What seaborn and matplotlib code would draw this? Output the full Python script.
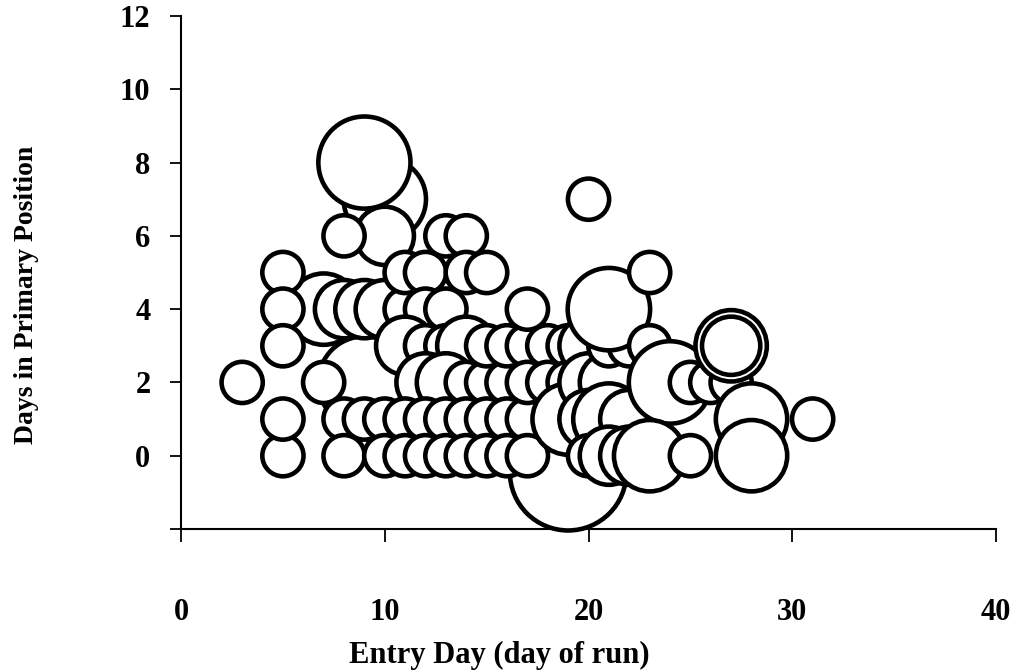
import matplotlib
matplotlib.use("Agg")
import matplotlib.pyplot as plt
import seaborn as sns
import pandas as pd

# Entry day, days spent in the primary position, and bubble weight (area)
entry_day = [
    19, 9, 7, 10, 9, 10,
    3, 5, 5, 5, 5, 5,
    7, 8, 8, 9, 10, 11,
    8, 8, 9, 10, 10,
    11, 12, 12, 13,
    13, 14, 14, 15,
    11, 12, 13, 14,
    12, 13, 14, 15, 16,
    11, 12, 13, 14, 15, 16, 17,
    11, 12, 13, 14, 15, 16, 17,
    15, 16, 17, 18, 19,
    17,
    17, 18, 19,
    19,
    20, 20, 21, 21, 22,
    20, 21, 22,
    20, 21, 22, 23,
    21, 20,
    23, 23,
    24, 23,
    25, 26, 27,
    25,
    27, 27,
    28, 28,
    31,
]
days_primary = [
    -0.45, 2, 4, 7, 8, 6,
    2, 5, 4, 3, 0, 1,
    2, 6, 4, 4, 4, 4,
    1, 0, 1, 1, 0,
    5, 5, 4, 4,
    6, 6, 5, 5,
    3, 3, 3, 3,
    2, 2, 2, 2, 2,
    1, 1, 1, 1, 1, 1, 1,
    0, 0, 0, 0, 0, 0, 0,
    3, 3, 3, 3, 3,
    4,
    2, 2, 2,
    1,
    3, 2, 2, 3, 3,
    1, 1, 1,
    0, 0, 0, 0,
    4, 7,
    3, 5,
    2, 0,
    2, 2, 2,
    0,
    3, 3,
    1, 0,
    1,
]
bubble_weight = [
    8, 5, 3, 4, 5, 2,
    1, 1, 1, 1, 1, 1,
    1, 1, 2, 2, 2, 1,
    1, 1, 1, 1, 1,
    1, 1, 1, 1,
    1, 1, 1, 1,
    2, 1, 1, 2,
    2, 2, 1, 1, 1,
    1, 1, 1, 1, 1, 1, 1,
    1, 1, 1, 1, 1, 1, 1,
    1, 1, 1, 1, 1,
    1,
    1, 1, 1,
    3,
    2, 2, 2, 1, 1,
    2, 3, 2,
    1, 2, 2, 2,
    4, 1,
    1, 1,
    4, 3,
    1, 1, 1,
    1,
    3, 2,
    3, 3,
    1,
]

x_ticks = [0, 10, 20, 30, 40]
y_ticks = [-2, 0, 2, 4, 6, 8, 10, 12]
y_tick_labels = ["", "0", "2", "4", "6", "8", "10", "12"]

df = pd.DataFrame({"entry": entry_day, "days": days_primary, "weight": bubble_weight})

sns.set_theme(style="white")
plt.rcParams["font.family"] = ["Liberation Serif", "DejaVu Serif"]
plt.rcParams["font.weight"] = "bold"

fig = plt.figure(figsize=(10.12, 6.72), dpi=100)
ax = fig.add_axes([0.1789, 0.2128, 0.8053, 0.7634])

# bubble area proportional to weight
k = 880
sns.scatterplot(
    data=df, x="entry", y="days", size="weight",
    sizes=(k * 1, k * 8), size_norm=(1, 8),
    color="white", edgecolor="black", linewidth=3.3,
    legend=False, ax=ax, clip_on=False, zorder=3,
)

ax.set_xlim(0, 40)
ax.set_ylim(-2, 12)
ax.set_xticks(x_ticks)
ax.set_yticks(y_ticks)
ax.set_yticklabels(y_tick_labels)

for side in ("top", "right"):
    ax.spines[side].set_visible(False)
for side in ("left", "bottom"):
    ax.spines[side].set_color("black")
    ax.spines[side].set_linewidth(1.5)

ax.tick_params(axis="x", direction="out", length=9, width=1.3, color="black",
               labelsize=22, pad=41, bottom=True)
ax.tick_params(axis="y", direction="out", length=8, width=1.3, color="black",
               labelsize=22, pad=14, left=True)
for lab in ax.get_xticklabels() + ax.get_yticklabels():
    lab.set_fontweight("bold")
    lab.set_color("black")

ax.set_xlabel("Entry Day (day of run)", fontsize=22, fontweight="bold", color="black", va="center")
ax.set_ylabel("Days in Primary Position", fontsize=20, fontweight="bold", color="black", va="center")
ax.xaxis.set_label_coords(0.391, -0.247)
ax.yaxis.set_label_coords(-0.19, 0.456)
ax.grid(False)

fig.savefig("out.png", dpi=100, facecolor="white")
